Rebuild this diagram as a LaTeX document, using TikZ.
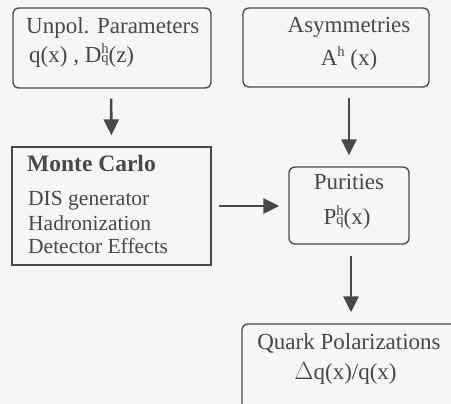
\documentclass[tikz,border=0pt]{standalone}
\usepackage{fontspec}
\setmainfont{Liberation Serif}
\usetikzlibrary{arrows.meta}
\definecolor{ink}{RGB}{72,72,72}
\definecolor{paper}{RGB}{246,246,244}
\newcommand\hqidx{\makebox[0pt][l]{\raisebox{9pt}{\fontsize{14.5}{15}\selectfont h}}{\fontsize{14.5}{15}\selectfont q}}
\newcommand\hidx{\raisebox{9pt}{\fontsize{14.5}{15}\selectfont h}}
\begin{document}
\begin{tikzpicture}[x=1pt,y=-1pt,
  box/.style={draw=ink,line width=1.3pt,rounded corners=6pt,minimum width=#1,inner sep=0pt},
  sqbox/.style={draw=ink,line width=1.3pt,inner sep=0pt},
  ttl/.style={text=ink,font=\fontsize{23}{27}\selectfont,inner sep=0pt},
  itm/.style={text=ink,font=\fontsize{21.5}{25}\selectfont,inner sep=0pt,anchor=base west},
  arr/.style={draw=ink,line width=2.6pt,-{Triangle[width=15pt,length=16pt]}}]
\fill[paper] (0,0) rectangle (451,404);
\useasboundingbox (0,0) rectangle (451,404);
% boxes
\node[box=198pt,minimum height=80pt] (b1) at (112,48) {};
\node[box=186pt,minimum height=79pt] (b2) at (336,47.5) {};
\node[sqbox,minimum width=199pt,minimum height=118pt] (b3) at (111.5,206) {};
\node[box=120pt,minimum height=77pt] (pur) at (349,205.5) {};
\node[box=220pt,minimum height=90pt] (qp) at (352,369) {};
% texts
\node[ttl,anchor=base west] (t1a) at (26,34) {Unpol. Parameters};
\node[ttl,anchor=base west] (t1b) at (29,63) {q(x) , D\hqidx(z)};
\node[ttl,anchor=base] (t2a) at (349,33) {Asymmetries};
\node[ttl,anchor=base] (t2b) at (349,66) {A\hidx\ (x)};
\node[ttl,anchor=base west,font=\fontsize{23.5}{27}\selectfont\bfseries] (t3a) at (27,172) {Monte Carlo};
\node[itm] (t3b) at (28,206) {DIS generator};
\node[itm] (t3c) at (28,231) {Hadronization};
\node[itm] (t3d) at (28,254) {Detector Effects};
\node[ttl,anchor=base] (t4a) at (349,190) {Purities};
\node[ttl,anchor=base] (t4b) at (347,225) {P\hqidx(x)};
\node[ttl,anchor=base] (t5a) at (349,350) {Quark Polarizations};
\node[ttl,anchor=base] (t5b) at (345.5,380) {$\Delta$q(x)/q(x)};
% arrows
\draw[arr,shorten <=10pt,shorten >=11pt] ([xshift=-1pt]b1.south) -- (b3.north);
\draw[arr,shorten <=10pt,shorten >=11pt] (pur.north |- b2.south) -- (pur.north);
\draw[arr,shorten <=7pt,shorten >=9pt] (b3.east) -- (b3.east -| pur.west);
\draw[arr,shorten <=11pt,shorten >=11pt] ([xshift=2pt]pur.south) -- ([xshift=2pt]pur.south |- qp.north);
\end{tikzpicture}
\end{document}
